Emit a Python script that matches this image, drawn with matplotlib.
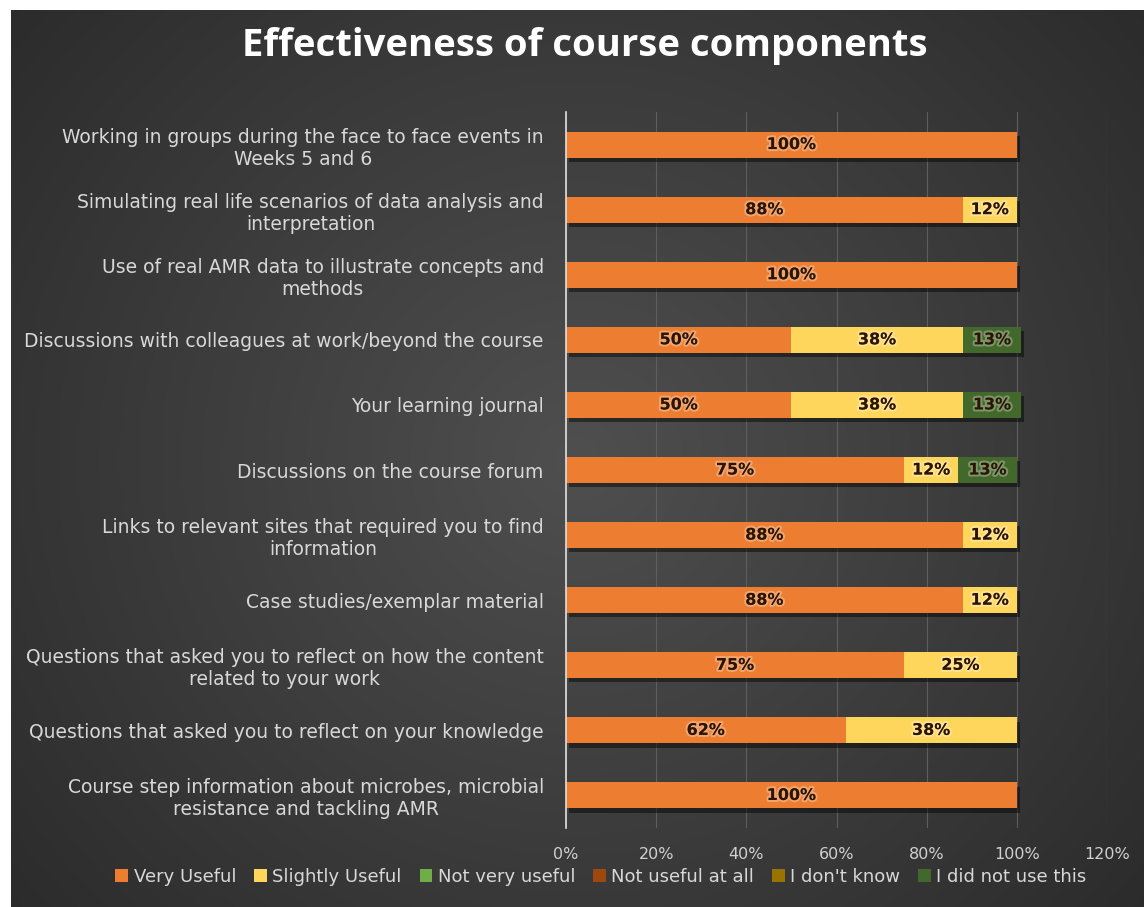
import numpy as np
import matplotlib.pyplot as plt
import matplotlib.patheffects as pe

# survey components, top to bottom
components = [
    "Working in groups during the face to face events in\nWeeks 5 and 6",
    "Simulating real life scenarios of data analysis and\ninterpretation",
    "Use of real AMR data to illustrate concepts and\nmethods",
    "Discussions with colleagues at work/beyond the course",
    "Your learning journal",
    "Discussions on the course forum",
    "Links to relevant sites that required you to find\ninformation",
    "Case studies/exemplar material",
    "Questions that asked you to reflect on how the content\nrelated to your work",
    "Questions that asked you to reflect on your knowledge",
    "Course step information about microbes, microbial\nresistance and tackling AMR",
]

responses = ["Very Useful", "Slightly Useful", "Not very useful",
             "Not useful at all", "I don't know", "I did not use this"]

very_useful     = [100, 88, 100, 50, 50, 75, 88, 88, 75, 62, 100]
slightly_useful = [0, 12, 0, 38, 38, 12, 12, 12, 25, 38, 0]
not_very_useful = [0, 0, 0, 0, 0, 0, 0, 0, 0, 0, 0]
not_useful      = [0, 0, 0, 0, 0, 0, 0, 0, 0, 0, 0]
dont_know       = [0, 0, 0, 0, 0, 0, 0, 0, 0, 0, 0]
did_not_use     = [0, 0, 0, 13, 13, 13, 0, 0, 0, 0, 0]

series = [very_useful, slightly_useful, not_very_useful,
          not_useful, dont_know, did_not_use]
colors = ["#ED7D31", "#FFD65C", "#70AD47", "#9E480E", "#997300", "#43682B"]

W, H = 1144, 907
fig = plt.figure(figsize=(W / 100, H / 100), dpi=100, facecolor="white")

# dark radial background panel
bg = fig.add_axes([11 / W, 0, 1 - 11 / W, 1 - 10 / H])
yy, xx = np.mgrid[0:1:300j, 0:1:380j]
r = np.sqrt(((xx - 0.5) / 0.75) ** 2 + ((yy - 0.5) / 0.9) ** 2)
shade = np.clip(0.31 - 0.16 * r, 0.15, 0.31)
bg.imshow(np.dstack([shade] * 3), aspect="auto", extent=[0, 1, 0, 1])
bg.set_axis_off()

ax = fig.add_axes([566 / W, 1 - 828 / H, (1107 - 566) / W, (828 - 112) / H])
ax.set_facecolor("none")

ypos = np.arange(len(components))
left = np.zeros(len(components))
shadow = [pe.SimplePatchShadow(offset=(2, -3), shadow_rgbFace="black", alpha=0.45), pe.Normal()]
glow = [pe.withStroke(linewidth=3, foreground=(1, 1, 1, 0.3))]
for name, vals, col in zip(responses, series, colors):
    vals = np.array(vals, dtype=float) / 100
    bars = ax.barh(ypos, vals, left=left, height=0.4, color=col, label=name,
                   zorder=3)
    for b in bars:
        b.set_path_effects(shadow)
    for y, v, l in zip(ypos, vals, left):
        if v > 0:
            ax.text(l + v / 2, y, f"{v * 100:.0f}%", ha="center", va="center",
                    fontsize=11.5, fontweight="bold", color="#2b1400",
                    path_effects=glow, zorder=5)
    left += vals

ax.set_xlim(0, 1.2)
ax.set_ylim(len(components) - 0.5, -0.5)
ax.set_xticks(np.arange(0, 1.21, 0.2))
ax.set_xticklabels([f"{t}%" for t in range(0, 121, 20)])
ax.set_yticks(ypos)
ax.set_yticklabels(components, multialignment="center")
ax.tick_params(axis="x", length=0, pad=14, colors="#d0d0d0", labelsize=11.5)
ax.tick_params(axis="y", length=0, pad=16, colors="#d8d8d8", labelsize=13.5)
ax.xaxis.grid(True, color="#5e5e5e", linewidth=0.8, zorder=0)
for s in ["top", "right", "bottom"]:
    ax.spines[s].set_visible(False)
ax.spines["left"].set_color("#e0e0e0")
ax.spines["left"].set_linewidth(1.2)
ax.spines["left"].set_zorder(4)

fig.text(585 / W, 1 - 46 / H, "Effectiveness of course components", ha="center",
         va="center", fontsize=27.5, fontweight="bold", color="white",
         family="Open Sans")

leg = fig.legend(loc="center", bbox_to_anchor=(601 / W, 1 - 877 / H), ncol=6,
                 frameon=False, fontsize=13, labelcolor="#d8d8d8",
                 handlelength=0.7, handleheight=0.7, handletextpad=0.3,
                 columnspacing=1.0)
for h in leg.legend_handles:
    h.set_path_effects([])

fig.savefig("out.png", dpi=100, facecolor=fig.get_facecolor())
